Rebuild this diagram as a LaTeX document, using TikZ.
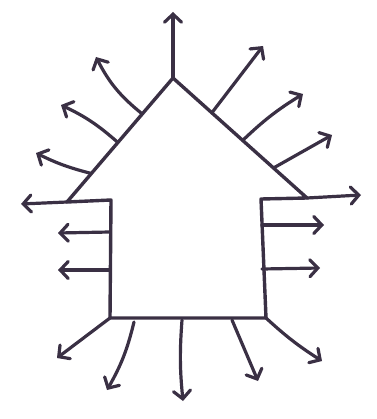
\documentclass[tikz,border=0pt]{standalone}
\usetikzlibrary{arrows.meta, calc}
\definecolor{penink}{RGB}{58, 48, 68}

\begin{document}
\begin{tikzpicture}[
    x=1pt, y=-1pt,
    outline/.style={draw=penink, line width=3.4pt, line join=round, line cap=round},
    ray/.style={draw=penink, line width=3.2pt, line cap=round,
      -{Straight Barb[length=8pt, width=17pt, line cap=round]}}
  ]
    \useasboundingbox (0,0) rectangle (376,419);

    % corners of the house
    \coordinate (apex)   at (173,78);
    \coordinate (lshoul) at (67,202);
    \coordinate (linner) at (111,200);
    \coordinate (lfoot)  at (110,318);
    \coordinate (rfoot)  at (266,318);
    \coordinate (rinner) at (261,199);
    \coordinate (rshoul) at (307,198);

    \draw[outline] (lshoul) -- (apex) -- (rshoul)
      (lshoul) -- (linner) -- (lfoot) -- (rfoot) -- (rinner) -- (rshoul);

    % arrow tips
    \coordinate (top)  at (173,12);
    \coordinate (l1)   at (96,57);
    \coordinate (l2)   at (61,105);
    \coordinate (l3)   at (36,153);
    \coordinate (l4)   at (21,204);
    \coordinate (r1)   at (263,46);
    \coordinate (r2)   at (303,94);
    \coordinate (r3)   at (332,135);
    \coordinate (r4)   at (361,195);
    \coordinate (ls1)  at (58,233);
    \coordinate (ls2)  at (58,270);
    \coordinate (rs1)  at (324,225);
    \coordinate (rs2)  at (320,268);
    \coordinate (b1)   at (57,358);
    \coordinate (b2)   at (107,390);
    \coordinate (b3)   at (183,401);
    \coordinate (b4)   at (258,381);
    \coordinate (b5)   at (322,361);

    % tails on the outline
    \coordinate (tl1) at ($(apex)!0.29!(lshoul)$);
    \coordinate (tl2) at ($(apex)!0.52!(lshoul)$);
    \coordinate (tl3) at ($(apex)!0.77!(lshoul)$);
    \coordinate (tr1) at ($(apex)!0.29!(rshoul)$);
    \coordinate (tr2) at ($(apex)!0.52!(rshoul)$);
    \coordinate (tr3) at ($(apex)!0.75!(rshoul)$);

    \draw[ray] (apex) -- (top);
    \draw[ray] (tl1) to[bend left=12] (l1);
    \draw[ray] (tl2) to[bend right=8] (l2);
    \draw[ray] (tl3) to[bend left=6] (l3);
    \draw[ray] (lshoul) -- (l4);
    \draw[ray] (tr1) -- (r1);
    \draw[ray] (tr2) to[bend left=6] (r2);
    \draw[ray] (tr3) -- (r3);
    \draw[ray] (rshoul) -- (r4);
    \draw[ray] (110,232) -- (ls1);
    \draw[ray] (110,270) -- (ls2);
    \draw[ray] (262,225) -- (rs1);
    \draw[ray] (262,269) -- (rs2);
    \draw[ray] (lfoot) -- (b1);
    \draw[ray] (134,322) to[bend left=8] (b2);
    \draw[ray] (182,320) to[bend right=5] (b3);
    \draw[ray] (232,320) -- (b4);
    \draw[ray] (rfoot) to[bend right=5] (b5);
  \end{tikzpicture}
\end{document}
